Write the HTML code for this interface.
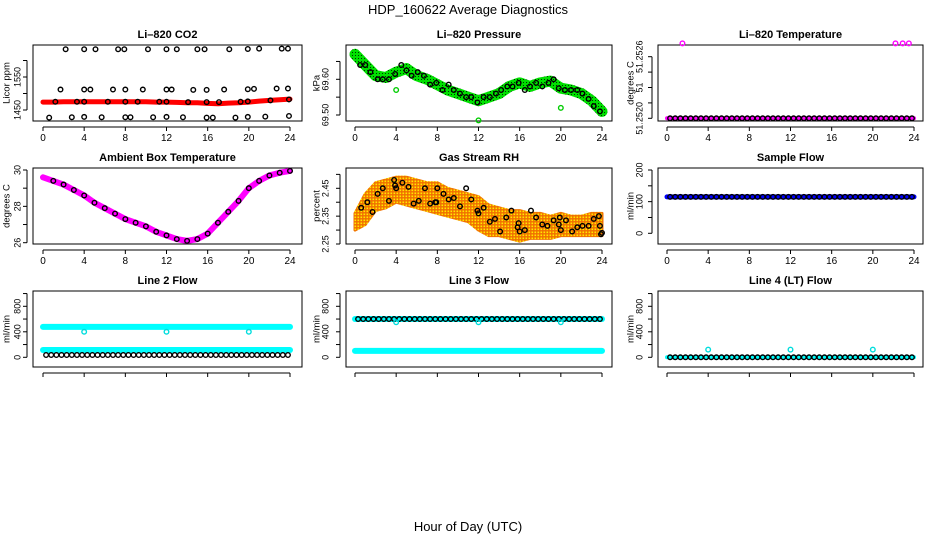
<!DOCTYPE html>
<html><head><meta charset="utf-8"><style>
body{margin:0;background:#fff;}
svg{display:block;font-family:"Liberation Sans",sans-serif;}
</style></head><body>
<svg id="chart" width="936" height="540" viewBox="0 0 936 540" xmlns="http://www.w3.org/2000/svg">
<defs>
<pattern id="rhpat" width="3" height="3" patternUnits="userSpaceOnUse"><rect width="3" height="3" fill="#f07000"/><rect x="0.5" y="0.5" width="1.6" height="1.6" fill="#ffe800"/></pattern>
<pattern id="grpat" width="3" height="3" patternUnits="userSpaceOnUse"><rect width="3" height="3" fill="#00e000"/><rect x="1" y="1" width="1" height="1" fill="#003300"/></pattern>
</defs>
<text x="468" y="14" font-size="13" text-anchor="middle">HDP_160622  Average Diagnostics</text>
<text x="468" y="531" font-size="13" text-anchor="middle">Hour of Day (UTC)</text>
</svg>
<script>
// ---- data ----
const xTicks = [0,4,8,12,16,20,24];
const hourly = [0,1,2,3,4,5,6,7,8,9,10,11,12,13,14,15,16,17,18,19,20,21,22,23,24];
const halfHours = [0.3,0.8,1.3,1.8,2.3,2.8,3.3,3.8,4.3,4.8,5.3,5.8,6.3,6.8,7.3,7.8,8.3,8.8,9.3,9.8,10.3,10.8,11.3,11.8,12.3,12.8,13.3,13.8,14.3,14.8,15.3,15.8,16.3,16.8,17.3,17.8,18.3,18.8,19.3,19.8,20.3,20.8,21.3,21.8,22.3,22.8,23.3,23.8];

const co2Band = [1474,1474,1475,1475,1475,1475,1475,1475,1475,1475,1475,1474,1474,1473,1472,1472,1470,1469,1471,1472,1474,1477,1479,1481,1483];
const co2TopHours = [2.2,4,5.1,7.3,7.9,10.2,12,13,15,15.7,18.1,19.9,21,23.2,23.8];
const co2TopVals = [1634,1634,1634,1634,1634,1634,1634,1634,1634,1634,1634,1635,1636,1636,1636];
const co2MidHours = [1.7,4,4.6,6.8,8,9.7,12,12.5,14.6,15.9,17.6,19.9,20.5,22.7,23.8];
const co2MidVals = [1512,1512,1512,1512,1512,1512,1512,1512,1511,1511,1512,1513,1514,1515,1515];
const co2LowHours = [1.2,3.3,4,6.3,8,9.2,11.3,12,14.1,15.9,17.1,19.2,19.9,22.1,23.9];
const co2LowVals = [1475,1475,1475,1475,1475,1475,1475,1475,1474,1474,1474,1475,1476,1479,1482];
const co2BotHours = [0.6,2.8,4,5.7,8,8.5,10.7,12,13.6,15.9,16.5,18.7,19.9,21.6,23.9];
const co2BotVals = [1427,1428,1429,1428,1428,1428,1428,1429,1428,1427,1427,1427,1429,1430,1432];

const presBand = [69.67,69.64,69.61,69.605,69.62,69.63,69.61,69.60,69.585,69.57,69.56,69.55,69.54,69.55,69.56,69.58,69.59,69.58,69.59,69.595,69.575,69.57,69.56,69.54,69.51];
const presHours = [0.5,1,1.5,2.2,2.7,3.3,3.9,4.5,5,5.5,6.1,6.7,7.3,7.9,8.5,9.1,9.6,10.2,10.8,11.3,11.9,12.5,13.1,13.7,14.2,14.8,15.3,15.9,16.5,17,17.6,18.2,18.8,19.3,19.8,20.4,21,21.6,22.1,22.7,23.2,23.8];
const presVals = [69.64,69.64,69.62,69.60,69.60,69.60,69.615,69.64,69.625,69.61,69.62,69.61,69.585,69.59,69.57,69.585,69.57,69.56,69.55,69.55,69.535,69.55,69.55,69.56,69.57,69.58,69.58,69.59,69.57,69.58,69.59,69.58,69.59,69.60,69.575,69.57,69.57,69.57,69.56,69.545,69.525,69.51];
const presOutHours = [4,12,20];
const presOutVals = [69.57,69.485,69.52];

const tempLevel = 51.2520;
const tempOutHours = [1.5,22.2,22.9,23.5];
const tempOutVals = [51.25273,51.25273,51.25273,51.25273];

const ambBand = [29.6,29.4,29.2,28.9,28.6,28.2,27.9,27.6,27.3,27.1,26.9,26.6,26.4,26.2,26.1,26.2,26.5,27.1,27.7,28.3,29.0,29.4,29.7,29.85,29.95];

const rhHigh = [2.36,2.43,2.47,2.48,2.49,2.49,2.48,2.47,2.47,2.45,2.44,2.43,2.42,2.39,2.38,2.37,2.37,2.36,2.36,2.35,2.36,2.35,2.35,2.36,2.36];
const rhLow = [2.30,2.32,2.37,2.38,2.40,2.39,2.38,2.37,2.36,2.35,2.34,2.33,2.30,2.28,2.28,2.27,2.26,2.27,2.27,2.27,2.28,2.28,2.28,2.28,2.28];
const rhHours = [0.6,1.2,1.7,2.2,2.7,3.3,3.8,3.9,4,4.6,5.2,5.7,6.2,6.8,7.3,7.8,7.9,8,8.6,9.1,9.6,10.2,10.8,11.3,11.9,12,12.5,13.1,13.6,14.1,14.7,15.2,15.8,15.9,16,16.5,17.1,17.6,18.2,18.7,19.3,19.8,19.9,20,20.5,21.1,21.6,22.1,22.7,23.2,23.7,23.8,23.9,24];
const rhVals = [2.38,2.40,2.365,2.43,2.45,2.405,2.48,2.46,2.45,2.47,2.455,2.395,2.405,2.45,2.395,2.40,2.40,2.45,2.43,2.41,2.415,2.385,2.45,2.41,2.37,2.36,2.38,2.33,2.34,2.295,2.345,2.37,2.31,2.325,2.295,2.30,2.37,2.345,2.32,2.315,2.335,2.32,2.345,2.30,2.335,2.295,2.31,2.315,2.315,2.34,2.35,2.315,2.285,2.29];

const sampleLevel = 115;
const line2High = 478, line2Low = 114, line2Black = 36, line2Out = 400;
const line3High = 600, line3Low = 100, line3Black = 600, line3Out = 550;
const line4Level = 0, line4Out = 120;
const flowOutHours = [4,12,20];

// ---- layout ----
const NS = "http://www.w3.org/2000/svg";
const svg = document.getElementById('chart');
const cols = [{l:33,r:302,x0:43,x24:290,tl:18,at:7},{l:346,r:612,x0:355,x24:602,tl:326,at:317},{l:658,r:923,x0:667,x24:914,tl:640,at:631}];
const rows = [{t:45,b:121},{t:168,b:244},{t:291,b:367}];

function mk(tag, attrs, parent){ const e=document.createElementNS(NS,tag); for(const k in attrs) e.setAttribute(k,attrs[k]); (parent||svg).appendChild(e); return e; }

function panel(ci, ri, name, title, ytitle, v0, p0, v1, p1, ticks, labels){
  const c=cols[ci], r=rows[ri];
  const g=mk('g',{});
  
  
  const xs=h=>c.x0+(c.x24-c.x0)*h/24;
  const ys=v=>p0+(p1-p0)*(v-v0)/(v1-v0);
  const box=mk('rect',{x:c.l,y:r.t,width:c.r-c.l,height:r.b-r.t,fill:'none',stroke:'#000','stroke-width':1},g);
  
  
  const tt=mk('text',{x:(c.l+c.r)/2,y:r.t-7,'font-size':11,'font-weight':'bold','text-anchor':'middle'},g);
  tt.textContent=title;
  
  
  const yt=mk('text',{x:c.at,y:(r.t+r.b)/2,'font-size':9.5,'text-anchor':'middle',transform:`rotate(-90 ${c.at} ${(r.t+r.b)/2})`,'dominant-baseline':'middle'},g);
  yt.textContent=ytitle;
  
  
  mk('line',{x1:xs(0),x2:xs(24),y1:r.b+6,y2:r.b+6,stroke:'#000'},g);
  xTicks.forEach(h=>{
    mk('line',{x1:xs(h),x2:xs(h),y1:r.b+6,y2:r.b+10,stroke:'#000'},g);
    if(ri<2){ const t=mk('text',{x:xs(h),y:r.b+20,'font-size':10,'text-anchor':'middle'},g); t.textContent=h;
      
       }
  });
  const ax=c.l-6;
  mk('line',{x1:ax,x2:ax,y1:ys(ticks[0]),y2:ys(ticks[ticks.length-1]),stroke:'#000'},g);
  ticks.forEach((v,i)=>{
    const y=ys(v);
    mk('line',{x1:ax-4,x2:ax,y1:y,y2:y,stroke:'#000'},g);
    if(labels[i]){ const t=mk('text',{x:c.tl,y:y,'font-size':9,'text-anchor':'middle','dominant-baseline':'middle',transform:`rotate(-90 ${c.tl} ${y})`},g); t.textContent=labels[i];
      
       }
  });
  return {g,xs,ys};
}
function band(P, hrs, vals, color, w){
  const pl=mk('polyline',{points:hrs.map((h,i)=>P.xs(h)+','+P.ys(vals[i])).join(' '),fill:'none',stroke:color,'stroke-width':w,'stroke-linejoin':'round','stroke-linecap':'round'},P.g);
  
  
}
function pts(P, hrs, vals, color){
  hrs.forEach((h,i)=>{
    const c=mk('circle',{cx:P.xs(h),cy:P.ys(vals[i]),r:2.3,fill:'none',stroke:color,'stroke-width':1.4},P.g);
    
    
  });
}
function lvl(P, hrs, level, color){ pts(P, hrs, hrs.map(()=>level), color); }

let P=panel(0,0,'co2-panel','Li\u2013820 CO2','Licor ppm',1450,110,1550,77,[1450,1500,1550,1600],['1450','','1550','']);
band(P,hourly,co2Band,'#ff0000',5);
pts(P,co2TopHours,co2TopVals,'#000'); pts(P,co2MidHours,co2MidVals,'#000');
pts(P,co2LowHours,co2LowVals,'#000'); pts(P,co2BotHours,co2BotVals,'#000');

P=panel(1,0,'pressure-panel','Li\u2013820 Pressure','kPa',69.50,115,69.60,79.3,[69.50,69.55,69.60,69.65],['69.50','','69.60','']);
band(P,hourly,presBand,'url(#grpat)',11);
pts(P,presOutHours,presOutVals,'#00cc00');
pts(P,presHours,presVals,'#000');

P=panel(2,0,'li820-temp-panel','Li\u2013820 Temperature','degrees C',51.2520,118.3,51.2526,56.7,[51.2520,51.25215,51.2523,51.25245,51.2526],['51.2520','','51','','51.2526']);
band(P,[0,24],[tempLevel,tempLevel],'#ff00ff',4);
lvl(P,halfHours,tempLevel,'#000');
pts(P,tempOutHours,tempOutVals,'#ff00ff');

P=panel(0,1,'ambient-temp-panel','Ambient Box Temperature','degrees C',26,242.7,30,170,[26,27,28,29,30],['26','','28','','30']);
band(P,hourly,ambBand,'#ff00ff',6);
pts(P,hourly.slice(1),ambBand.slice(1),'#000');

P=panel(1,1,'rh-panel','Gas Stream RH','percent',2.25,244,2.45,188.3,[2.25,2.30,2.35,2.40,2.45,2.50],['2.25','','2.35','','2.45','']);
{ const poly=hourly.map((h,i)=>P.xs(h)+','+P.ys(rhHigh[i])).concat(hourly.slice().reverse().map((h,j)=>P.xs(h)+','+P.ys(rhLow[hourly.length-1-j])));
  const pg=mk('polygon',{points:poly.join(' '),fill:'url(#rhpat)',stroke:'url(#rhpat)','stroke-width':3,'stroke-linejoin':'round'},P.g);
  
   }
pts(P,rhHours,rhVals,'#000');

P=panel(2,1,'sample-flow-panel','Sample Flow','ml/min',0,233.3,200,170,[0,50,100,150,200],['0','','100','','200']);
band(P,[0,24],[sampleLevel,sampleLevel],'#0000ff',5);
lvl(P,halfHours,sampleLevel,'#000');

const fTicks=[0,200,400,600,800,1000], fLabels=['0','','400','','800',''];
P=panel(0,2,'line2-flow-panel','Line 2 Flow','ml/min',0,357.3,800,306.3,fTicks,fLabels);
band(P,[0,24],[line2High,line2High],'#00ffff',6);
band(P,[0,24],[line2Low,line2Low],'#00ffff',6);
lvl(P,halfHours,line2Black,'#000');
lvl(P,flowOutHours,line2Out,'#00dddd');

P=panel(1,2,'line3-flow-panel','Line 3 Flow','ml/min',0,357.3,800,306.3,fTicks,fLabels);
band(P,[0,24],[line3High,line3High],'#00ffff',6);
band(P,[0,24],[line3Low,line3Low],'#00ffff',6);
lvl(P,halfHours,line3Black,'#000');
lvl(P,flowOutHours,line3Out,'#00dddd');

P=panel(2,2,'line4-flow-panel','Line 4 (LT) Flow','ml/min',0,357.3,800,306.3,fTicks,fLabels);
band(P,[0,24],[line4Level,line4Level],'#00ffff',4);
lvl(P,halfHours,line4Level,'#000');
lvl(P,flowOutHours,line4Out,'#00dddd');
</script>
</body></html>
